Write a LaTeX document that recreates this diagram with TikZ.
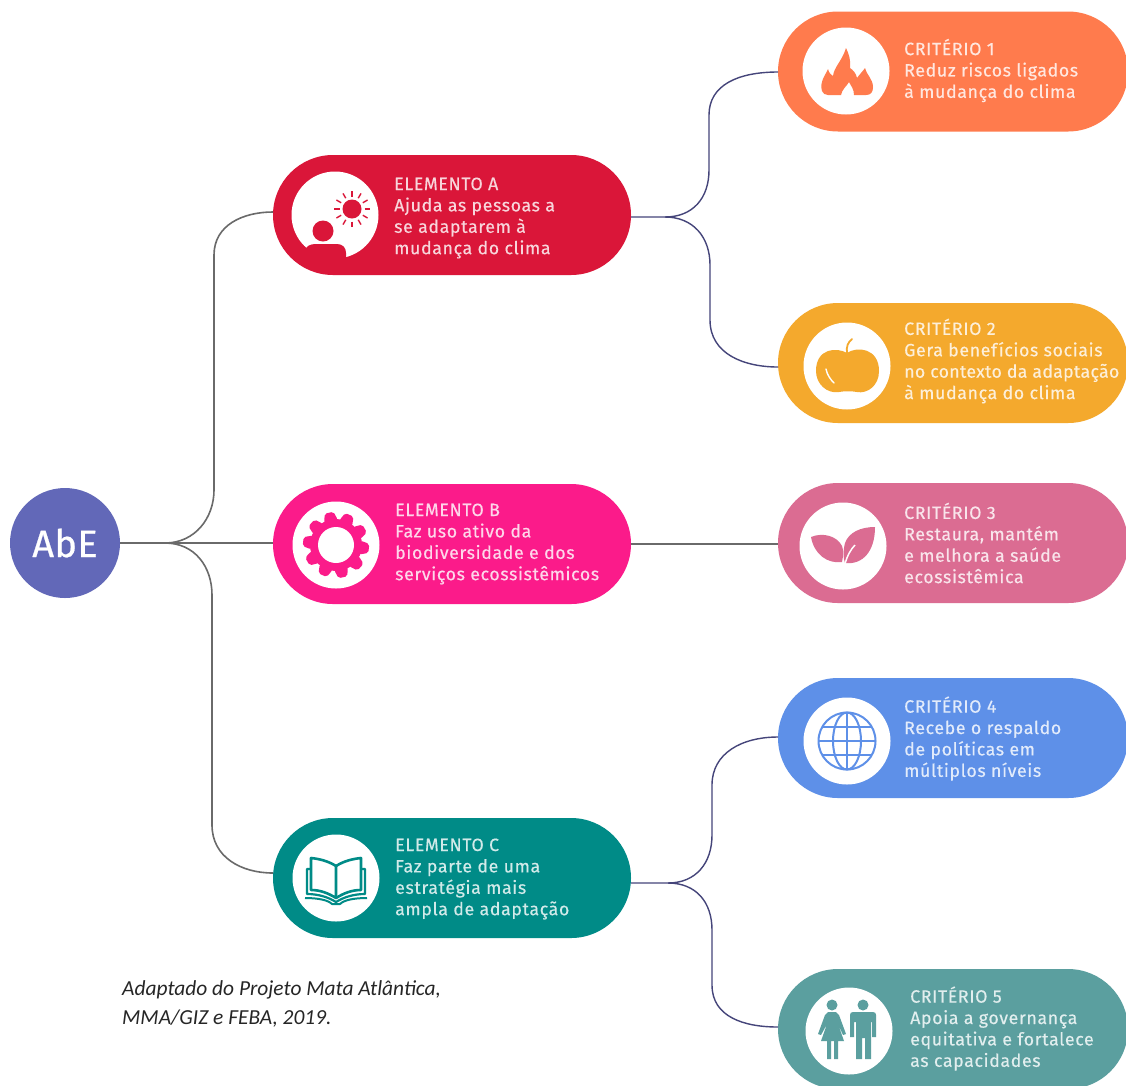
\documentclass[tikz,border=0pt]{standalone}
\usepackage{fontspec}
\setmainfont{Carlito}
\newfontfamily\pillfont[LetterSpace=3.4,FakeBold=0.35]{Fira Sans}
\newfontfamily\abefont[LetterSpace=1,FakeBold=0.6]{Fira Sans}
\usetikzlibrary{shapes.misc}
\definecolor{cAbE}{HTML}{6268B8}
\definecolor{cA}{HTML}{DA1639}
\definecolor{cB}{HTML}{FB1B8A}
\definecolor{cC}{HTML}{008B87}
\definecolor{c1}{HTML}{FF7B4D}
\definecolor{c2}{HTML}{F4A92D}
\definecolor{c3}{HTML}{DB6C92}
\definecolor{c4}{HTML}{5E90E8}
\definecolor{c5}{HTML}{5B9F9F}
\definecolor{gline}{HTML}{6A6A6A}
\definecolor{nline}{HTML}{45457A}
\tikzset{
  pill/.style={rounded rectangle,fill=#1,draw=none,inner sep=0pt,minimum height=120pt},
  elempill/.style={pill=#1,minimum width=358pt},
  critpill/.style={pill=#1,minimum width=350pt},
  disc/.style={circle,fill=white,inner sep=0pt,minimum size=87pt},
  label/.style={anchor=west,align=left,inner sep=0pt,text=#1!18!white,
    font=\pillfont\fontsize{17.8}{21.4}\selectfont},
  grayconn/.style={draw=gline,line width=1.6pt},
  navyconn/.style={draw=nline,line width=1.4pt},
}
\begin{document}
\begin{tikzpicture}[x=1pt,y=-1pt]
\useasboundingbox (0,0) rectangle (1126,1085);
\fill[white] (0,0) rectangle (1126,1085);

% pills
\node[circle,fill=cAbE,inner sep=0pt,minimum size=110pt,text=white,font=\abefont\fontsize{38}{40}\selectfont] (abe) at (65,543) {AbE};
\node[elempill=cA] (ea) at (452,215) {};
\node[elempill=cB] (eb) at (452,544) {};
\node[elempill=cC] (ec) at (452,878) {};
\node[critpill=c1] (k1) at (953,71.5) {};
\node[critpill=c2] (k2) at (953,363) {};
\node[critpill=c3] (k3) at (953,543) {};
\node[critpill=c4] (k4) at (953,738) {};
\node[critpill=c5] (k5) at (953,1029) {};

% connector way-points
\coordinate (j0) at (165,543);
\coordinate (ua) at (214,490);
\coordinate (ub) at (214,255);
\coordinate (la) at (212,595);
\coordinate (lb) at (212,825);
\coordinate (ja) at (665,217);
\coordinate (a1) at (709,170);
\coordinate (a2) at (709,115);
\coordinate (a3) at (710,265);
\coordinate (a4) at (710,320);
\coordinate (jc) at (668,883);
\coordinate (c1a) at (712,835);
\coordinate (c1b) at (712,785);
\coordinate (c2a) at (712,930);
\coordinate (c2b) at (712,985);
\coordinate (ta) at (273,212);
\coordinate (tc) at (273,873);
\coordinate (oa) at (631,217);
\coordinate (oc) at (631,883);
\coordinate (t1) at (778,72);
\coordinate (t2) at (778,367);
\coordinate (t4) at (778,737);
\coordinate (t5) at (778,1027);

\draw[grayconn] (abe.east) -- (eb.west |- abe.east);
\draw[grayconn] (abe.east) -- (j0) .. controls +(30,0) and +(0,28) .. (ua) -- (ub) .. controls +(0,-30) and +(-30,0) .. (ta);
\draw[grayconn] (j0) .. controls +(30,0) and +(0,-28) .. (la) -- (lb) .. controls +(0,32) and +(-32,0) .. (tc);
\draw[navyconn] (oa) -- (ja) .. controls +(28,0) and +(0,28) .. (a1) -- (a2) .. controls +(0,-30) and +(-40,0) .. (t1);
\draw[navyconn] (ja) .. controls +(28,0) and +(0,-28) .. (a3) -- (a4) .. controls +(0,34) and +(-34,0) .. (t2);
\draw[grayconn,line width=1.3pt] (eb.east) -- (k3.west |- eb.east);
\draw[navyconn] (oc) -- (jc) .. controls +(28,0) and +(0,28) .. (c1a) -- (c1b) .. controls +(0,-32) and +(-36,0) .. (t4);
\draw[navyconn] (jc) .. controls +(28,0) and +(0,-28) .. (c2a) -- (c2b) .. controls +(0,32) and +(-34,0) .. (t5);

% icon discs
\node[disc] (ia) at (335,215) {};
\node[disc] (ib) at (336,545) {};
\node[disc] (ic) at (336,878) {};
\node[disc] (i1) at (846,71) {};
\node[disc] (i2) at (847,366) {};
\node[disc] (i3) at (843,546) {};
\node[disc] (i4) at (847,741) {};
\node[disc] (i5) at (849,1031) {};

% icon A: sun and person
\begin{scope}[shift={(ia)}]
  \begin{scope}
  \clip (0,0) circle (44.5);
  \fill[cA] (-30,46) -- (-30,36) .. controls (-29,31) and (-25,29) .. (-19,29) -- (2,29) .. controls (8,29) and (11,33) .. (11,38) -- (11,46) -- cycle;
  \end{scope}
  \fill[cA] (-12,16) circle (10.5);
  \fill[cA] (17,-6) circle (9.5);
  \foreach \r in {0,30,...,330}
    \draw[cA,line width=1.4pt] (17,-6) ++(\r:12.5) -- ++(\r:5.5);
\end{scope}

% icon B: gear
\begin{scope}[shift={(ib)}]
  \fill[cB] (0,0) circle (26);
  \foreach \r in {0,36,...,324}
    \fill[cB,rotate=\r+12,rounded corners=2pt] (-7,-24) -- (-4.5,-33) -- (4.5,-33) -- (7,-24) -- cycle;
  \fill[white] (0,0) circle (18);
\end{scope}

% icon C: book
\begin{scope}[shift={(ic)},line join=round,yshift=-1pt]
  \draw[cC,line width=2.6pt] (0,-13) .. controls (-8,-18) and (-16,-20) .. (-25,-21) -- (-25,11) .. controls (-16,11) and (-8,14) .. (0,19) -- cycle;
  \draw[cC,line width=2.6pt] (0,-13) .. controls (8,-18) and (16,-20) .. (25,-21) -- (25,11) .. controls (16,11) and (8,14) .. (0,19);
  \draw[cC,line width=2.2pt] (-25,-10) -- (-29,-10) -- (-29,15) .. controls (-18,15) and (-8,18) .. (0,23) .. controls (8,18) and (18,15) .. (29,15) -- (29,-10) -- (25,-10);
  \draw[cC,line width=2pt] (-31,19) .. controls (-18,19) and (-8,21) .. (-4,25) -- (4,25) .. controls (8,21) and (18,19) .. (31,19);
\end{scope}

% icon 1: flame
\begin{scope}[shift={(i1)}]
  \fill[c1] (-5,24) -- (-18,24) .. controls (-24,24) and (-26,18) .. (-24,11)
    .. controls (-23,6) and (-20,3) .. (-18,-2) .. controls (-17,2) and (-15,4) .. (-13,5)
    .. controls (-12,-4) and (-4,-10) .. (0,-23) .. controls (3,-17) and (5,-10) .. (4,-3)
    .. controls (7,-1) and (10,2) .. (11,7) .. controls (13,4) and (17,0) .. (19,-3)
    .. controls (20,3) and (27,8) .. (27,16) .. controls (27,21) and (25,24) .. (20,24)
    -- (8,24) .. controls (8,18) and (5,15) .. (3,11) .. controls (1,15) and (-4,18) .. (-5,24) -- cycle;
\end{scope}

% icon 2: apple
\begin{scope}[shift={(i2)}]
  \fill[c2] (0,-13) .. controls (10,-20) and (32,-18) .. (32,5) .. controls (32,20) and (20,28) .. (10,26)
    .. controls (5,25) and (-3,25) .. (-8,26) .. controls (-20,28) and (-31,18) .. (-31,5)
    .. controls (-31,-18) and (-10,-19) .. (0,-13) -- cycle;
  \draw[c2,line width=1.8pt,line cap=round] (0,-13) .. controls (-1,-19) and (1,-24) .. (5,-27);
  \draw[white,line width=1.4pt,line cap=round] (-21,3) .. controls (-20,9) and (-16,14) .. (-13,17);
\end{scope}

% icon 3: leaves
\begin{scope}[shift={(i3)}]
  \fill[c3] (-32,-9) .. controls (-20,-14) and (-6,-10) .. (-1,0) .. controls (1,5) and (0,11) .. (-1,16)
     .. controls (-16,18) and (-29,8) .. (-32,-9) -- cycle;
  \fill[c3] (32,-19) .. controls (18,-19) and (6,-14) .. (2,-3) .. controls (0,5) and (0,12) .. (2,17)
     .. controls (20,19) and (32,5) .. (32,-19) -- cycle;
  \draw[white,line width=1.5pt] (2,18) .. controls (4,10) and (8,3) .. (12,-1);
\end{scope}

% icon 4: globe
\begin{scope}[shift={(i4)},c4,line width=2pt]
  \draw (0,0) circle (28.5);
  \draw (0,0) ellipse (14 and 28.5);
  \draw (0,-28.5) -- (0,28.5);
  \draw (-28.5,0) -- (28.5,0);
  \draw (-24,-14) -- (24,-14);
  \draw (-24,14) -- (24,14);
\end{scope}

% icon 5: woman and man
\begin{scope}[shift={(i5)}]
  \fill[c5] (-17,-26) circle (5.5);
  \fill[c5] (14,-26) circle (5.5);
  \fill[c5] (-21,-19) -- (-13,-19) -- (-10,-16) -- (-3,3) -- (-6,4) -- (-11,-7) -- (-5,10) -- (-11,10) -- (-11,28) -- (-15,28) -- (-15,10) -- (-18,10) -- (-18,28) -- (-22,28) -- (-22,10) -- (-28,10) -- (-22,-7) -- (-28,4) -- (-31,3) -- (-24,-16) -- cycle;
  \fill[c5] (4,-19) -- (24,-19) .. controls (26,-19) and (27,-18) .. (27,-16) -- (27,6) -- (23,6) -- (23,-9) -- (22,-9) -- (22,28) -- (16,28) -- (16,7) -- (13,7) -- (13,28) -- (7,28) -- (7,-9) -- (5,-9) -- (5,6) -- (1,6) -- (1,-16) .. controls (1,-18) and (2,-19) .. (4,-19) -- cycle;
\end{scope}

% texts
\node[label=cA] (ta1) at (394,218) {ELEMENTO A\\Ajuda as pessoas a\\se adaptarem à\\mudança do clima};
\node[label=cB] (tb1) at (395,544) {ELEMENTO B\\Faz uso ativo da\\biodiversidade e dos\\serviços ecossistêmicos};
\node[label=cC] (tc1) at (395,879) {ELEMENTO C\\Faz parte de uma\\estratégia mais\\ampla de adaptação};
\node[label=c1] (t1l) at (904,70.5) {CRITÉRIO 1\\Reduz riscos ligados\\à mudança do clima};
\node[label=c2] (t2l) at (904,361) {CRITÉRIO 2\\Gera benefícios sociais\\{\addfontfeature{LetterSpace=1.4}no contexto da adaptação}\\à mudança do clima};
\node[label=c3] (t3l) at (904,543) {CRITÉRIO 3\\Restaura, mantém\\e melhora a saúde\\ecossistêmica};
\node[label=c4] (t4l) at (904,738.5) {CRITÉRIO 4\\Recebe o respaldo\\de políticas em\\múltiplos níveis};
\node[label=c5] (t5l) at (910,1028.5) {CRITÉRIO 5\\Apoia a governança\\equitativa e fortalece\\as capacidades};

\node[anchor=west,align=left,inner sep=0pt,text=black!85,font=\itshape\fontsize{21.4}{29}\selectfont] (src) at (122,1004) {Adaptado do Projeto Mata Atlântica,\\MMA/GIZ e FEBA, 2019.};
\end{tikzpicture}
\end{document}
